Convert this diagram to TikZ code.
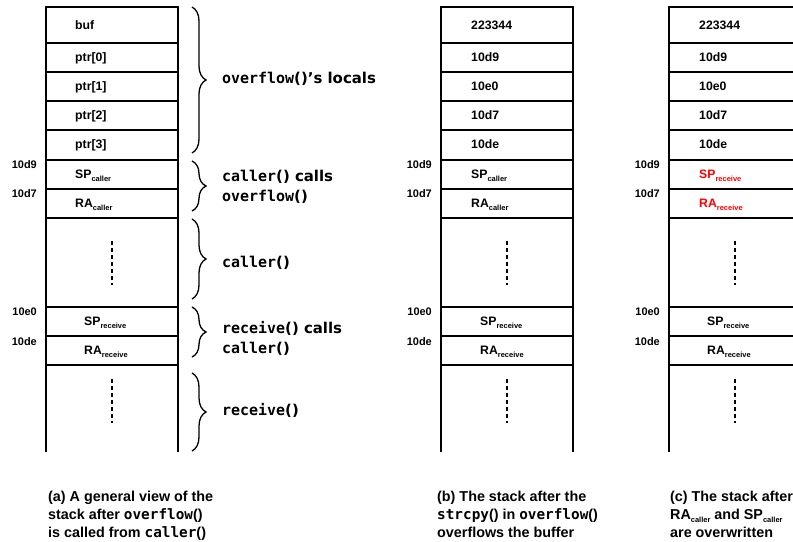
\documentclass[tikz,border=0pt]{standalone}
\usepackage{fontspec}
\setmainfont{Liberation Sans}
\newfontfamily\monofont{DejaVu Sans Mono}
\newfontfamily\bracefont{DejaVu Sans}
\usetikzlibrary{decorations.pathreplacing}

\newcommand{\code}[1]{{\monofont #1}}
\newcommand{\sub}[1]{\raisebox{-2.6pt}{\fontsize{7.5}{8}\selectfont #1}}

\tikzset{
  frame/.style={line width=1.6bp},
  rowline/.style={line width=1.4bp},
  dots/.style={line width=1.8bp, dash pattern=on 4bp off 3bp},
  cell/.style={anchor=base west, inner sep=0pt, font=\fontsize{12.3}{14}\selectfont\bfseries},
  addr/.style={anchor=base east, inner sep=0pt, font=\fontsize{11}{12}\selectfont\bfseries},
  brc/.style={decorate, decoration={brace, amplitude=14bp}, line width=1.3bp},
  blabel/.style={anchor=west, inner sep=0pt, align=left, font=\fontsize{15}{20}\selectfont\bfseries\bracefont},
  capt/.style={anchor=north west, inner sep=0pt, align=left, font=\fontsize{14.4}{18}\selectfont\bfseries},
  hot/.style={text=red}
}

% outline of one stack: cells, separators, dotted gaps and addresses
\newcommand{\stackframe}[1]{%
  \draw[frame] (0,452) -- (0,7) -- (132,7) -- (132,452);
  \foreach \yy in {43,72,101,130,160,189,218,307,336,365}
    \draw[rowline] (0,\yy) -- (132,\yy);
  \draw[dots] (66,241) -- (66,285);
  \draw[dots] (66,379) -- (66,423);
  \node[addr] (#1-ad1) at (-9,169) {10d9};
  \node[addr] (#1-ad2) at (-9,198) {10d7};
  \node[addr] (#1-ad3) at (-9,316) {10e0};
  \node[addr] (#1-ad4) at (-9,345) {10de};
}

\begin{document}
\begin{tikzpicture}[x=1bp, y=-1bp]
\useasboundingbox (0,0) rectangle (793,542);
\clip (0,0) rectangle (793,542);

% (a) general view
\begin{scope}[shift={(46,0)}]
  \stackframe{a}
  \node[cell] (a-c1) at (29,29.2) {buf};
  \node[cell] (a-c2) at (29,61.5) {ptr[0]};
  \node[cell] (a-c3) at (29,90.5) {ptr[1]};
  \node[cell] (a-c4) at (29,119.5) {ptr[2]};
  \node[cell] (a-c5) at (29,149) {ptr[3]};
  \node[cell] (a-c6) at (29,178.5) {SP\sub{caller}};
  \node[cell] (a-c7) at (29,207.5) {RA\sub{caller}};
  \node[cell] (a-c8) at (38,325.5) {SP\sub{receive}};
  \node[cell] (a-c9) at (38,354.5) {RA\sub{receive}};
\end{scope}

% braces naming the frames
\coordinate (b1t) at (192,7);   \coordinate (b1b) at (192,153);
\coordinate (b2t) at (192,161); \coordinate (b2b) at (192,211);
\coordinate (b3t) at (192,219); \coordinate (b3b) at (192,299);
\coordinate (b4t) at (192,307); \coordinate (b4b) at (192,357);
\coordinate (b5t) at (192,373); \coordinate (b5b) at (192,451);
\draw[brc] (b1t) -- (b1b);
\draw[brc] (b2t) -- (b2b);
\draw[brc] (b3t) -- (b3b);
\draw[brc] (b4t) -- (b4b);
\draw[brc] (b5t) -- (b5b);
\node[blabel] (l1) at (222,79) {\code{overflow}()’s locals};
\node[blabel] (l2) at (222,187) {\code{caller}() calls\\\code{overflow}()};
\node[blabel] (l3) at (222,263) {\code{caller}()};
\node[blabel] (l4) at (222,338) {\code{receive}() calls\\\code{caller}()};
\node[blabel] (l5) at (222,410) {\code{receive}()};

% (b) after strcpy()
\begin{scope}[shift={(441,0)}]
  \stackframe{b}
  \node[cell] (b-c1) at (30,29.2) {223344};
  \node[cell] (b-c2) at (30,61.5) {10d9};
  \node[cell] (b-c3) at (30,90.5) {10e0};
  \node[cell] (b-c4) at (30,119.5) {10d7};
  \node[cell] (b-c5) at (30,149) {10de};
  \node[cell] (b-c6) at (30,178.5) {SP\sub{caller}};
  \node[cell] (b-c7) at (30,207.5) {RA\sub{caller}};
  \node[cell] (b-c8) at (39,325.5) {SP\sub{receive}};
  \node[cell] (b-c9) at (39,354.5) {RA\sub{receive}};
\end{scope}

% (c) after the saved values are overwritten
\begin{scope}[shift={(669,0)}]
  \stackframe{c}
  \node[cell] (c-c1) at (30,29.2) {223344};
  \node[cell] (c-c2) at (30,61.5) {10d9};
  \node[cell] (c-c3) at (30,90.5) {10e0};
  \node[cell] (c-c4) at (30,119.5) {10d7};
  \node[cell] (c-c5) at (30,149) {10de};
  \node[cell, hot] (c-c6) at (30,178.5) {SP\sub{receive}};
  \node[cell, hot] (c-c7) at (30,207.5) {RA\sub{receive}};
  \node[cell] (c-c8) at (38,325.5) {SP\sub{receive}};
  \node[cell] (c-c9) at (38,354.5) {RA\sub{receive}};
\end{scope}

% captions
\node[capt] (capa) at (48,491) {(a) A general view of the\\stack after \code{overflow}()\\is called from \code{caller}()};
\node[capt] (capb) at (437,491) {(b) The stack after the\\\code{strcpy}() in \code{overflow}()\\overflows the buffer};
\node[capt] (capc) at (670,491) {(c) The stack after\\RA\sub{caller} and SP\sub{caller}\\are overwritten};
\end{tikzpicture}
\end{document}
